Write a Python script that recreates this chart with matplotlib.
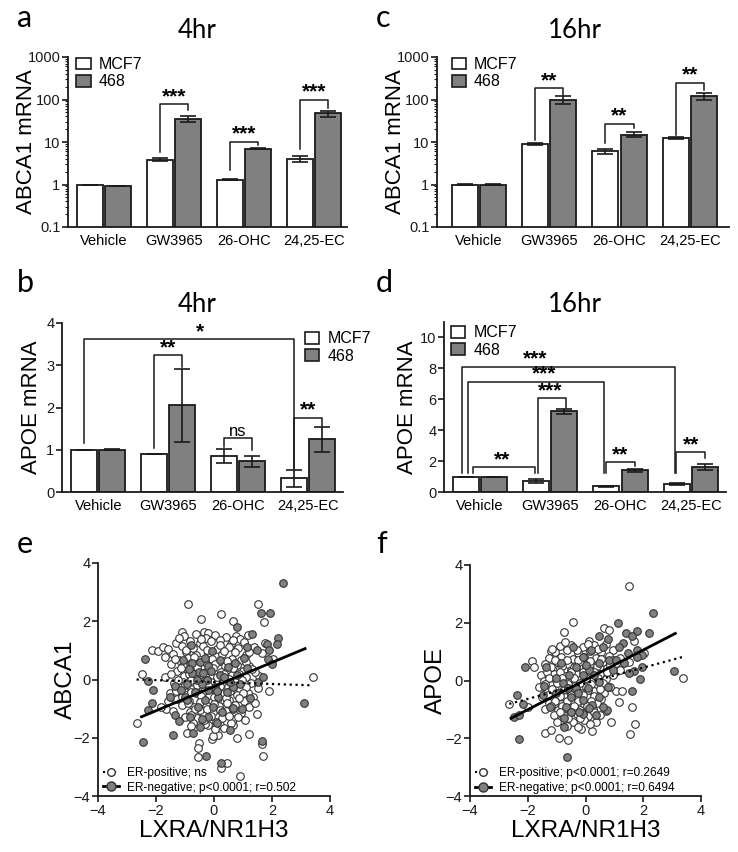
#Figure: ABCA1 / APOE mRNA bars (a-d) and LXRA correlation scatters (e-f)

import numpy as np
import matplotlib.pyplot as plt
from matplotlib.patches import Patch
from matplotlib.lines import Line2D

plt.rcParams['font.family'] = ['Liberation Sans', 'DejaVu Sans']

#1. DATA

treatments = ['Vehicle', 'GW3965', '26-OHC', '24,25-EC']
cells = ['MCF7', '468']

# a: ABCA1 4hr
a_mcf7 = [1.0, 3.8, 1.3, 4.0]
a_mcf7_err = [0.0, 0.3, 0.04, 0.7]
a_468 = [0.9, 35, 7.0, 47]
a_468_err = [0.0, 6, 0.2, 8]

# c: ABCA1 16hr
c_mcf7 = [1.0, 8.8, 6.0, 12.5]
c_mcf7_err = [0.02, 0.5, 0.8, 0.6]
c_468 = [1.0, 100, 15, 120]
c_468_err = [0.05, 20, 2, 25]

# b: APOE 4hr
b_mcf7 = [1.0, 0.9, 0.85, 0.32]
b_mcf7_err = [0.0, 0.01, 0.16, 0.2]
b_468 = [1.0, 2.05, 0.73, 1.25]
b_468_err = [0.01, 0.87, 0.13, 0.3]

# d: APOE 16hr
d_mcf7 = [1.0, 0.72, 0.38, 0.5]
d_mcf7_err = [0.0, 0.12, 0.03, 0.07]
d_468 = [1.0, 5.22, 1.4, 1.6]
d_468_err = [0.0, 0.15, 0.12, 0.2]

# significance brackets: x1, x2, y left leg, y right leg, y top, label, x of label
a_sig = [(0.8, 1.2, 5.9, 57, 78, '***', 1.0),
         (1.8, 2.2, 2.2, 8.5, 10.2, '***', 2.0),
         (2.8, 3.2, 7.0, 63, 98, '***', 3.0)]
c_sig = [(0.8, 1.2, 11.2, 129, 186, '**', 1.0),
         (1.8, 2.2, 9.6, 21, 26.6, '**', 2.0),
         (2.8, 3.2, 14.5, 170, 251, '**', 3.0)]
b_sig = [(-0.2, 2.8, 1.16, 0.54, 3.61, '*', 1.45),
         (0.8, 1.2, 1.04, 2.95, 3.24, '**', 1.0),
         (1.8, 2.2, 1.07, 0.99, 1.27, 'ns', 2.0),
         (2.8, 3.2, 0.57, 1.57, 1.76, '**', 3.0)]
d_sig = [(-0.25, 2.77, 1.23, 1.23, 8.1, '***', 0.79),
         (-0.17, 1.77, 1.23, 1.23, 7.14, '***', 0.91),
         (0.83, 1.22, 1.23, 5.42, 6.06, '***', 1.0),
         (-0.1, 0.78, 1.23, 1.23, 1.61, '**', 0.32),
         (1.8, 2.2, 1.23, 1.66, 1.91, '**', 2.0),
         (2.79, 3.2, 1.23, 2.2, 2.56, '**', 3.0)]

# e: ABCA1 vs LXRA, ER-positive (open) and ER-negative (filled)
e_pos = [(-0.89, 2.59), (1.53, 2.59), (0.23, 2.26), (-0.45, 2.09), (0.67, 2.02), (1.73, 1.97),
         (-1.12, 1.62), (-0.35, 1.63), (-0.20, 1.58), (0.75, 1.49), (-2.15, 1.03), (-1.93, 0.98),
         (-1.69, 0.78), (-1.75, 1.10), (-2.50, 0.18), (-2.67, -1.49), (-1.67, -1.03), (3.43, 0.09),
         (1.91, -0.39), (1.47, -1.19), (1.19, -1.87), (1.65, -2.23), (1.68, -2.62), (0.90, -3.33),
         (0.23, -3.05), (0.44, -2.85), (-0.54, -2.67), (-0.51, -2.19), (-0.94, -1.82), (-0.08, -2.05),
         (0.15, -1.91), (0.21, -1.57), (0.67, -1.57), (0.81, -2.02), (-0.20, -1.57), (1.07, -1.39),
         (1.19, -0.94), (1.36, -0.59), (0.67, -1.34), (0.39, -0.90), (2.05, 0.72), (1.55, 0.12),
         (1.75, 1.25), (-0.55, -2.35), (-0.05, -1.95), (0.35, -1.65), (-0.35, -1.20), (-1.83, -0.95),
         (-1.02, 1.48), (-0.62, 1.55), (-0.28, 1.42), (0.03, 1.52), (0.41, 1.45), (0.88, 1.38), (1.18, 1.52),
         (-1.31, 1.27), (-0.83, 1.33), (-0.49, 1.24), (-0.12, 1.31), (0.22, 1.36), (0.58, 1.22), (1.02, 1.29),
         (-1.58, 1.06), (-1.12, 1.14), (-0.71, 1.08), (-0.38, 1.15), (0.09, 1.04), (0.52, 1.12), (0.83, 1.07),
         (1.38, 1.13), (-1.42, 0.87), (-0.98, 0.93), (-0.63, 0.85), (-0.21, 0.92), (0.28, 0.88), (0.71, 0.95),
         (1.09, 0.84), (1.66, 0.91), (-1.21, 0.68), (-0.88, 0.73), (-0.47, 0.66), (-0.08, 0.72), (0.19, 0.64),
         (0.63, 0.71), (0.93, 0.67), (-1.48, 0.52), (-1.07, 0.46), (-0.79, 0.55), (-0.42, 0.48), (0.02, 0.53),
         (0.38, 0.45), (0.81, 0.51), (1.22, 0.47), (-1.27, 0.28), (-0.91, 0.33), (-0.58, 0.26), (-0.19, 0.31),
         (0.23, 0.27), (0.49, 0.34), (1.01, 0.29), (1.43, 0.25), (-1.68, 0.08), (-1.02, 0.13), (-0.68, 0.06),
         (-0.31, 0.11), (0.12, 0.07), (0.61, 0.14), (1.12, 0.09), (-1.39, -0.12), (-1.08, -0.07), (-0.52, -0.13),
         (-0.09, -0.08), (0.31, -0.11), (0.72, -0.06), (1.28, -0.12), (-1.18, -0.28), (-0.79, -0.33),
         (-0.41, -0.27), (0.02, -0.31), (0.48, -0.26), (0.88, -0.34), (1.52, -0.29), (-1.52, -0.48),
         (-0.97, -0.53), (-0.61, -0.47), (-0.18, -0.52), (0.29, -0.49), (0.79, -0.54), (1.18, -0.46),
         (-1.29, -0.68), (-0.87, -0.73), (-0.38, -0.66), (0.09, -0.72), (0.53, -0.69), (1.02, -0.74),
         (-1.09, -0.88), (-0.68, -0.93), (-0.28, -0.87), (0.18, -0.92), (0.71, -0.86), (-1.41, -1.08),
         (-0.82, -1.13), (-0.49, -1.06), (-0.02, -1.12), (0.42, -1.07), (0.92, -1.14), (-1.01, -1.28),
         (-0.58, -1.33), (-0.11, -1.27), (0.29, -1.32), (0.83, -1.29), (-0.72, -1.49), (-0.31, -1.53),
         (0.08, -1.46), (0.58, -1.51),
         (-1.20, 1.42), (-0.45, 1.38), (0.20, 1.20), (0.65, 1.35), (-0.95, 1.02), (-0.25, 1.00),
         (0.35, 0.98), (1.20, 0.95), (-1.35, 0.72), (-0.70, 0.78), (-0.30, 0.60), (0.45, 0.62),
         (1.10, 0.60), (-1.15, 0.40), (-0.60, 0.42), (-0.05, 0.38), (0.65, 0.38), (1.30, 0.35),
         (-1.50, 0.20), (-0.85, 0.18), (-0.45, 0.20), (0.35, 0.20), (0.85, 0.18), (-1.25, 0.00),
         (-0.80, -0.02), (-0.25, 0.00), (0.50, 0.02), (0.95, -0.02), (-1.00, -0.20), (-0.60, -0.20),
         (-0.20, -0.18), (0.20, -0.22), (0.65, -0.18), (1.10, -0.25), (-1.30, -0.40), (-0.80, -0.42),
         (-0.35, -0.40), (0.10, -0.42), (0.55, -0.40), (1.00, -0.45), (-1.10, -0.60), (-0.45, -0.58),
         (0.00, -0.60), (0.40, -0.62), (0.85, -0.65), (-0.90, -0.80), (-0.50, -0.78), (0.00, -0.85),
         (0.45, -0.82), (-0.65, -1.00), (-0.25, -1.02), (0.20, -1.05), (0.65, -1.00), (-0.80, -1.22),
         (-0.35, -1.40), (0.50, -1.25), (0.05, -1.70), (-0.80, -1.60), (1.40, -0.80), (-1.60, -0.75)]
e_neg = [(2.37, 3.33), (1.93, 2.29), (1.62, 2.29), (0.81, 1.81), (1.30, 1.55), (2.22, 1.41),
         (2.16, 1.23), (1.82, 1.23), (1.15, 1.12), (1.47, 1.00), (1.91, 1.00), (1.85, 0.70),
         (1.99, 0.53), (-0.06, 0.97), (-1.08, 0.66), (-0.79, 1.18), (-2.38, 0.70), (-2.28, -0.05),
         (-2.09, -0.37), (-2.14, -0.79), (-2.29, -1.05), (-1.35, -1.22), (-1.21, -1.42), (-1.43, -1.91),
         (-2.46, -2.14), (-0.29, -2.63), (0.24, -2.85), (1.65, -2.11), (3.12, -0.80), (0.55, -1.74),
         (-0.71, -1.85), (-0.48, -1.62), (-0.83, -1.28), (-0.54, -0.94), (-0.31, -0.71), (-0.02, -0.94),
         (0.26, -1.11), (0.67, -0.99), (0.96, -1.02), (1.24, -0.65), (1.53, -0.08), (1.70, 0.09),
         (1.13, 0.38), (0.78, 0.15), (0.49, 0.43), (0.21, 0.15), (0.03, -0.25), (-0.25, -0.02),
         (-0.51, 0.26), (-0.77, 0.21), (-0.94, -0.14), (-0.66, -0.42), (-0.99, -0.59), (-1.52, -0.59),
         (-1.35, -0.23), (-0.48, 0.61), (-0.20, 0.46), (0.21, 0.66), (0.72, 0.55), (0.90, -0.14),
         (0.44, -0.42), (0.67, -0.25), (0.15, -0.59), (-0.20, -0.37), (-0.37, 0.21), (-0.77, 0.55),
         (-0.94, -0.71), (-0.20, -1.28), (0.09, -1.51), (-0.43, -1.34), (-0.60, 0.00), (-0.40, -0.15),
         (-0.10, 0.30), (0.35, 0.10), (-0.85, 0.35), (-1.15, -0.35), (0.55, -0.10), (-0.30, 0.75),
         (0.10, -0.40), (1.05, 0.75)]
e_pos_fit = ([-2.67, 3.37], [0.00, -0.20])
e_neg_fit = ([-2.50, 3.14], [-1.28, 1.06])
e_labels = ['ER-positive; ns', 'ER-negative; p<0.0001; r=0.502']

# f: APOE vs LXRA
f_pos = [(1.50, 3.28), (-0.45, 2.04), (-0.75, 1.69), (0.13, 1.38), (0.65, 1.81), (-1.20, 1.02),
         (-1.86, 0.69), (-1.77, 0.48), (-2.64, -0.81), (-2.00, -0.91), (-1.39, -1.83), (-1.20, -1.71),
         (-0.91, -2.00), (-0.59, -2.06), (-0.16, -1.69), (0.21, -1.74), (0.88, -1.43), (1.55, -1.85),
         (1.72, -1.51), (1.60, -0.91), (3.37, 0.08), (1.52, 0.65), (2.04, 0.96), (1.69, 1.37),
         (0.82, 1.75), (1.05, -0.38), (1.25, -0.35), (1.15, -0.75),
         (-0.90, 1.18), (-0.50, 1.24), (-0.10, 1.15), (0.30, 1.22), (0.70, 1.27),
         (-1.05, 0.97), (-0.65, 1.04), (-0.25, 0.95), (0.15, 1.02), (0.55, 0.98), (0.95, 1.05),
         (-1.25, 0.78), (-0.85, 0.83), (-0.45, 0.76), (-0.05, 0.82), (0.35, 0.77), (0.80, 0.84), (1.20, 0.79),
         (-1.40, 0.57), (-1.00, 0.63), (-0.60, 0.56), (-0.20, 0.62), (0.20, 0.58), (0.60, 0.64), (1.05, 0.59),
         (-1.30, 0.38), (-0.90, 0.43), (-0.50, 0.36), (-0.10, 0.42), (0.30, 0.37), (0.75, 0.43), (1.20, 0.38),
         (-1.55, 0.18), (-1.10, 0.23), (-0.70, 0.16), (-0.30, 0.22), (0.10, 0.17), (0.50, 0.23), (0.95, 0.18),
         (-1.45, -0.02), (-1.00, 0.03), (-0.60, -0.04), (-0.20, 0.02), (0.25, -0.03), (0.70, 0.04),
         (-1.60, -0.22), (-1.20, -0.17), (-0.80, -0.23), (-0.40, -0.18), (0.00, -0.24), (0.40, -0.17),
         (0.85, -0.22), (-1.35, -0.38), (-0.95, -0.43), (-0.55, -0.37), (-0.15, -0.42), (0.30, -0.38),
         (0.65, -0.44), (-1.50, -0.58), (-1.10, -0.63), (-0.70, -0.57), (-0.30, -0.62), (0.10, -0.58),
         (0.55, -0.63), (-1.25, -0.78), (-0.85, -0.83), (-0.45, -0.77), (-0.05, -0.82), (0.40, -0.79),
         (-1.40, -0.98), (-0.95, -1.03), (-0.60, -0.97), (-0.20, -1.02), (0.25, -0.99), (0.70, -1.04),
         (-1.10, -1.18), (-0.70, -1.23), (-0.30, -1.17), (0.10, -1.22), (0.50, -1.19),
         (-0.85, -1.38), (-0.45, -1.43), (-0.05, -1.37), (0.35, -1.42), (-0.65, -1.58), (-0.25, -1.62),
         (-1.15, 1.08), (-0.70, 1.32), (-0.30, 1.05), (0.10, 1.28), (0.45, 1.10), (-1.05, 0.70),
         (-0.65, 0.70), (-0.25, 0.72), (0.15, 0.68), (0.55, 0.75), (0.95, 0.70), (-1.20, 0.48),
         (-0.80, 0.50), (-0.40, 0.48), (0.00, 0.48), (0.40, 0.50), (0.85, 0.52), (-1.35, 0.28),
         (-0.90, 0.30), (-0.50, 0.28), (-0.10, 0.30), (0.30, 0.28), (0.75, 0.30), (-1.25, 0.08),
         (-0.80, 0.10), (-0.40, 0.08), (0.00, 0.10), (0.45, 0.10), (-1.40, -0.12), (-1.00, -0.10),
         (-0.60, -0.12), (-0.20, -0.10), (0.20, -0.12), (0.60, -0.10), (-1.15, -0.30), (-0.75, -0.30),
         (-0.35, -0.30), (0.10, -0.32), (0.50, -0.30), (-1.30, -0.50), (-0.90, -0.52), (-0.50, -0.50),
         (-0.10, -0.50), (0.30, -0.52), (-1.05, -0.70), (-0.65, -0.70), (-0.25, -0.70), (0.20, -0.70),
         (-1.20, -0.90), (-0.80, -0.90), (-0.40, -0.90), (0.05, -0.90), (-0.90, -1.10), (-0.50, -1.10),
         (-0.10, -1.12), (0.30, -1.10), (-0.60, -1.30), (-0.20, -1.30), (0.15, -1.52), (-1.00, -1.45)]
f_neg = [(2.33, 2.33), (1.11, 2.00), (2.19, 1.66), (1.77, 1.71), (1.40, 1.66), (1.60, 1.54),
         (0.77, 1.43), (0.46, 1.54), (1.29, 1.31), (1.78, 1.06), (1.96, 0.88), (1.46, 0.94),
         (1.17, 1.15), (1.78, 0.83), (1.96, 0.48), (1.89, 0.05), (1.67, 0.33), (1.52, 0.25),
         (1.60, -0.35), (3.08, 0.33), (-0.42, 1.15), (-0.10, 0.83), (0.19, 1.06), (0.59, 1.15),
         (0.82, 0.71), (0.48, 0.59), (0.13, 0.36), (-0.33, 0.48), (-0.10, 0.19), (-0.56, 0.19),
         (-0.79, -0.10), (-0.33, -0.27), (0.07, -0.27), (0.48, -0.04), (0.77, -0.21), (0.48, -0.56),
         (0.22, -0.85), (-0.10, -0.68), (-0.50, -0.56), (-1.02, -0.45), (-1.43, -0.19), (-1.48, -0.50),
         (-1.22, -0.91), (-0.68, -0.91), (-0.50, -1.08), (-0.10, -1.16), (0.36, -1.20), (-0.75, -1.31),
         (-0.75, -1.60), (-0.21, -1.08), (-1.37, 0.46), (-2.10, 0.47), (-2.37, -0.50), (-2.18, -0.81),
         (-2.49, -1.25), (-2.29, -1.20), (-2.29, -2.04), (-0.63, -2.64), (0.74, -1.02), (0.13, -0.96),
         (0.59, -0.91), (1.05, 0.71), (1.34, 0.59), (-0.85, 0.59), (-1.02, 0.08), (0.30, 0.20),
         (-0.25, -0.45), (0.95, 0.35), (-0.60, -0.25), (0.00, 0.55)]
f_pos_fit = ([-2.64, 3.42], [-0.81, 0.83])
f_neg_fit = ([-2.58, 3.11], [-1.31, 1.63])
f_labels = ['ER-positive; p<0.0001; r=0.2649', 'ER-negative; p<0.0001; r=0.6494']


#2. FIGURE

W, H = 738, 852
fig = plt.figure(figsize=(W / 100, H / 100), dpi=100)

def px_axes(left, top, right, bottom):
    # axes from pixel box
    return fig.add_axes([left / W, 1 - bottom / H, (right - left) / W, (bottom - top) / H])

def ylabel_at(ax, text, size, x_px):
    # put the y label so its right side sits at pixel x_px
    ax.set_ylabel(text, fontsize=size)
    l, b, w, h = ax.get_position().bounds
    ax.yaxis.set_label_coords((x_px / W - l) / w, 0.5)

GRAY = '#808080'
EDGE = '#1a1a1a'
title_font = ['Lato', 'DejaVu Sans']


def style_axes(ax):
    for s in ['top', 'right']:
        ax.spines[s].set_visible(False)
    for s in ['left', 'bottom']:
        ax.spines[s].set_linewidth(1.3)
        ax.spines[s].set_color(EDGE)
    ax.tick_params(axis='y', direction='out', length=4, width=1.2, labelsize=10.5, pad=1.5, colors=EDGE)


def bar_panel(ax, mcf7, mcf7_err, t468, t468_err, sig, log):
    x = np.arange(len(treatments))
    ekw = dict(elinewidth=1.2, capthick=1.2, ecolor=EDGE)
    ax.bar(x - 0.2, mcf7, width=0.37, color='white', edgecolor=EDGE, linewidth=1.3,
           yerr=mcf7_err, capsize=6, error_kw=ekw, log=log)
    ax.bar(x + 0.2, t468, width=0.37, color=GRAY, edgecolor=EDGE, linewidth=1.3,
           yerr=t468_err, capsize=6, error_kw=ekw, log=log)
    ax.set_xticks(x)
    ax.set_xticklabels(treatments)
    ax.tick_params(axis='x', length=0, labelsize=10.5, pad=5)
    style_axes(ax)
    for x1, x2, y1, y2, top, lab, tx in sig:
        ax.plot([x1, x1, x2, x2], [y1, top, top, y2], color=EDGE, lw=1.1)
        if lab == 'ns':
            ax.annotate(lab, (tx, top), xytext=(0, 2), textcoords='offset points',
                        ha='center', va='baseline', fontsize=12)
        else:
            ax.annotate(lab, (tx, top), xytext=(0, 1.5), textcoords='offset points',
                        ha='center', va='baseline', fontsize=15, fontweight='bold')


def bar_legend(ax, anchor):
    handles = [Patch(facecolor='white', edgecolor=EDGE, linewidth=1.2),
               Patch(facecolor=GRAY, edgecolor=EDGE, linewidth=1.2)]
    ax.legend(handles, cells, loc='upper left', bbox_to_anchor=anchor, frameon=False,
              fontsize=11.5, handlelength=0.9, handleheight=0.75, handletextpad=0.5,
              labelspacing=0.15, borderpad=0, borderaxespad=0)


def log_axis(ax):
    ax.set_ylim(0.1, 1000)
    ax.set_yticks([0.1, 1, 10, 100, 1000])
    ax.set_yticklabels(['0.1', '1', '10', '100', '1000'])
    ax.tick_params(axis='y', which='minor', length=2, width=0.8, colors=EDGE)


# a
ax_a = px_axes(68, 57, 347, 227)
bar_panel(ax_a, a_mcf7, a_mcf7_err, a_468, a_468_err, a_sig, True)
log_axis(ax_a)
ax_a.set_xlim(-0.51, 3.47)
ylabel_at(ax_a, 'ABCA1 mRNA', 16, 37)
bar_legend(ax_a, (0.03, 1.0))

# c
ax_c = px_axes(437, 57, 729, 227)
bar_panel(ax_c, c_mcf7, c_mcf7_err, c_468, c_468_err, c_sig, True)
log_axis(ax_c)
ax_c.set_xlim(-0.6, 3.56)
ylabel_at(ax_c, 'ABCA1 mRNA', 16, 406)
bar_legend(ax_c, (0.05, 1.0))

# b
ax_b = px_axes(62, 323, 343, 492)
bar_panel(ax_b, b_mcf7, b_mcf7_err, b_468, b_468_err, b_sig, False)
ax_b.set_ylim(0, 4)
ax_b.set_yticks([0, 1, 2, 3, 4])
ax_b.set_xlim(-0.52, 3.5)
ylabel_at(ax_b, 'APOE mRNA', 16, 42)
bar_legend(ax_b, (0.865, 0.95))

# d
ax_d = px_axes(444, 322, 726, 492)
bar_panel(ax_d, d_mcf7, d_mcf7_err, d_468, d_468_err, d_sig, False)
ax_d.set_ylim(0, 11)
ax_d.set_yticks([0, 2, 4, 6, 8, 10])
ax_d.set_xlim(-0.51, 3.5)
ylabel_at(ax_d, 'APOE mRNA', 16, 418)
bar_legend(ax_d, (0.025, 0.98))


def scatter_panel(ax, pos, neg, pos_fit, neg_fit, labels, ylabel, ylab_px):
    pos = np.array(pos)
    neg = np.array(neg)
    ax.scatter(pos[:, 0], pos[:, 1], s=30, facecolor='white', edgecolor='#333333', linewidth=0.8, zorder=2)
    ax.scatter(neg[:, 0], neg[:, 1], s=30, facecolor=GRAY, edgecolor='#333333', linewidth=0.8, zorder=3)
    ax.plot(pos_fit[0], pos_fit[1], color='k', ls=':', lw=1.6, zorder=4)
    ax.plot(neg_fit[0], neg_fit[1], color='k', ls='-', lw=2.0, zorder=4)
    ax.set_xlim(-4, 4)
    ax.set_ylim(-4, 4)
    ax.set_xticks([-4, -2, 0, 2, 4])
    ax.set_yticks([-4, -2, 0, 2, 4])
    style_axes(ax)
    ax.tick_params(axis='x', direction='out', length=4, width=1.2, labelsize=10.5, pad=1.5, colors=EDGE)
    ax.set_xlabel('LXRA/NR1H3', fontsize=17.5, labelpad=2)
    ylabel_at(ax, ylabel, 17.5, ylab_px)
    h1 = Line2D([], [], color='k', ls=':', lw=1.5, marker='o', mfc='white', mec='#333333', ms=5.5)
    h2 = Line2D([], [], color='k', ls='-', lw=2.0, marker='o', mfc=GRAY, mec='#333333', ms=6.5)
    ax.legend([h1, h2], labels, loc='lower left', bbox_to_anchor=(0.02, 0.01), frameon=False,
              fontsize=8.6, handlelength=1.4, handletextpad=0.6, labelspacing=0.25,
              borderpad=0, borderaxespad=0, numpoints=1)


# e
ax_e = px_axes(98, 563, 330, 796)
scatter_panel(ax_e, e_pos, e_neg, e_pos_fit, e_neg_fit, e_labels, 'ABCA1', 77)

# f
ax_f = px_axes(470, 565, 701, 796)
scatter_panel(ax_f, f_pos, f_neg, f_pos_fit, f_neg_fit, f_labels, 'APOE', 447)

# titles and panel letters
for x, y, t in [(197, 38, '4hr'), (575, 38, '16hr'), (197, 312, '4hr'), (575, 312, '16hr')]:
    fig.text(x / W, 1 - y / H, t, ha='center', va='baseline', fontsize=18.5, family=title_font)
for x, y, t in [(17, 27, 'a'), (376, 27, 'c'), (17, 292, 'b'), (376, 292, 'd'),
                (17, 553, 'e'), (376, 553, 'f')]:
    fig.text(x / W, 1 - y / H, t, ha='left', va='baseline', fontsize=22, family=title_font)

plt.savefig('out.png', dpi=100)
